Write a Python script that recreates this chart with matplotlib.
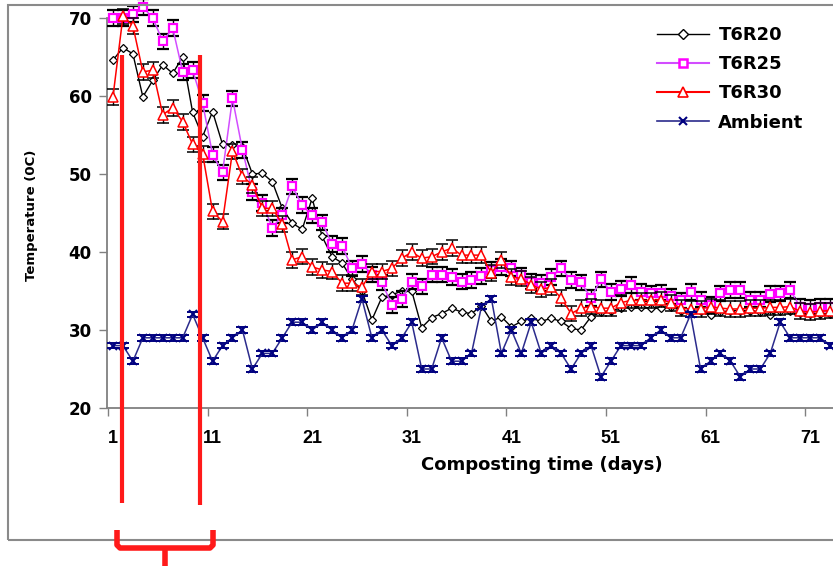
import matplotlib
matplotlib.use('Agg')
import matplotlib.pyplot as plt
from matplotlib.lines import Line2D
from matplotlib.patches import Rectangle

# Temperatures, days 1..73
days = list(range(1, 74))

t6r20 = [64.6, 66.2, 65.4, 59.9, 62.0, 64.0, 62.9, 65.0, 57.9, 54.8,
         58.0, 53.8, 53.7, 53.5, 50.0, 50.1, 49.0, 45.6, 43.7, 42.9,
         46.9, 42.0, 39.4, 38.6, 36.5, 35.0, 31.3, 34.2, 34.5, 35.0,
         35.0, 30.3, 31.6, 32.1, 32.8, 32.3, 32.1, 33.1, 31.1, 31.7,
         30.4, 31.1, 31.5, 31.1, 31.5, 31.1, 30.2, 30.0, 31.7, 32.3,
         32.5, 32.8, 33.0, 33.0, 32.8, 32.8, 33.0, 32.5, 32.3, 32.5,
         31.9, 32.3, 32.5, 32.5, 32.5, 32.3, 31.9, 32.5, 32.5, 32.2,
         32.0, 32.0, 32.0]

t6r25 = [70.0, 70.0, 70.5, 71.4, 70.0, 67.0, 68.7, 63.1, 63.3, 59.1,
         52.5, 50.2, 59.7, 53.1, 47.7, 46.3, 43.1, 44.7, 48.4, 46.0,
         44.7, 43.8, 41.0, 40.8, 37.9, 38.5, 37.1, 36.1, 33.2, 34.0,
         36.2, 35.6, 37.1, 37.1, 36.8, 36.2, 36.4, 36.9, 37.7, 38.1,
         37.9, 37.0, 36.2, 36.0, 36.8, 37.9, 36.4, 36.1, 34.1, 36.5,
         34.9, 35.3, 35.8, 34.9, 34.7, 34.8, 34.3, 33.8, 34.9, 33.9,
         33.2, 34.7, 35.1, 35.1, 33.9, 33.9, 34.6, 34.7, 35.1, 33.0,
         32.8, 33.0, 33.0]

t6r30 = [59.9, 70.2, 69.0, 63.1, 63.3, 57.6, 58.5, 56.7, 53.8, 52.6,
         45.2, 43.9, 52.9, 49.7, 48.6, 45.6, 45.6, 43.6, 39.0, 39.4,
         38.1, 37.7, 37.5, 36.0, 36.0, 35.5, 37.5, 37.5, 37.9, 39.2,
         40.0, 39.2, 39.4, 40.0, 40.5, 39.6, 39.6, 39.6, 37.3, 39.0,
         36.8, 36.6, 35.8, 35.2, 35.5, 34.1, 32.1, 32.8, 33.0, 32.8,
         32.8, 33.5, 33.8, 33.8, 33.8, 33.9, 33.5, 32.8, 32.7, 32.7,
         33.0, 32.8, 32.7, 32.7, 32.8, 32.8, 32.9, 32.9, 33.0, 32.4,
         32.3, 32.4, 32.5]

ambient = [28, 28, 26, 29, 29, 29, 29, 29, 32, 29,
           26, 28, 29, 30, 25, 27, 27, 29, 31, 31,
           30, 31, 30, 29, 30, 34, 29, 30, 28, 29,
           31, 25, 25, 29, 26, 26, 27, 33, 34, 27,
           30, 27, 31, 27, 28, 27, 25, 27, 28, 24,
           26, 28, 28, 28, 29, 30, 29, 29, 32, 25,
           26, 27, 26, 24, 25, 25, 27, 31, 29, 29,
           29, 29, 28]

err_compost = 1.0
err_ambient = 0.35

x_labels = [1, 11, 21, 31, 41, 51, 61, 71]
y_ticks = [20, 30, 40, 50, 60, 70]

W, H = 833, 566
fig = plt.figure(figsize=(W / 100, H / 100), dpi=100)
ax = fig.add_axes([107 / W, 1 - 408 / H, 1 - 107 / W, (408 - 18) / H])

ax.plot(days, t6r20, color='black', lw=1, marker='D', ms=4.5,
        mfc='white', mec='black', mew=0.9, clip_on=False, zorder=3)
ax.errorbar(days, t6r25, yerr=err_compost, color='#d24dff', lw=1.1,
            marker='s', ms=6, mfc='white', mec='#ff00ff', mew=1.6,
            ecolor='black', elinewidth=1, capsize=4, capthick=1.8,
            clip_on=False, zorder=4)
ax.errorbar(days, t6r30, yerr=err_compost, color='#ff0000', lw=1.1,
            marker='^', ms=7, mfc='white', mec='#ff0000', mew=1.1,
            ecolor='black', elinewidth=1, capsize=4, capthick=1.8,
            clip_on=False, zorder=5)
ax.errorbar(days, ambient, yerr=err_ambient, color='#2b2b8c', lw=1.1,
            marker='x', ms=5.5, mec='#000080', mew=1.4,
            ecolor='#000080', elinewidth=1, capsize=4, capthick=1.8,
            clip_on=False, zorder=6)

ax.set_xlim(0.4, 73.3)
ax.set_ylim(20, 70)

for s in ['top', 'right']:
    ax.spines[s].set_visible(False)
for s in ['left', 'bottom']:
    ax.spines[s].set_color('#808080')
    ax.spines[s].set_linewidth(1.3)

ax.set_yticks(y_ticks)
ax.set_yticklabels([str(v) for v in y_ticks], fontsize=12, fontweight='bold')
ax.tick_params(axis='y', length=6, width=1, color='#808080', pad=5)

ax.set_xticks(x_labels)
ax.set_xticklabels([str(v) for v in x_labels], fontsize=13,
                   fontweight='bold', family='Liberation Sans')
ax.tick_params(axis='x', which='major', length=0, pad=16)
ax.set_xticks([0.5 + 10 * k for k in range(8)], minor=True)
ax.tick_params(axis='x', which='minor', length=6, width=1, color='#808080')

ax.set_xlabel('Composting time (days)', fontsize=13, fontweight='bold')
ax.xaxis.set_label_coords((542 - 107) / (W - 107), (408 - 456) / 390)
ax.set_ylabel('Temperature (0C)', fontsize=9.5, fontweight='bold')
ax.yaxis.set_label_coords((38 - 107) / (W - 107), 0.495)

handles = [
    Line2D([], [], color='black', lw=1, marker='D', ms=5, mfc='white', mec='black'),
    Line2D([], [], color='#d24dff', lw=1.5, marker='s', ms=6, mfc='white', mec='#ff00ff', mew=1.8),
    Line2D([], [], color='#ff0000', lw=1.5, marker='^', ms=7, mfc='white', mec='#ff0000', mew=1.2),
    Line2D([], [], color='#2b2b8c', lw=1.2, marker='x', ms=6, mec='#000080', mew=1.5),
]
fig.legend(handles, ['T6R20', 'T6R25', 'T6R30', 'Ambient'],
           loc='upper left', bbox_to_anchor=(657 / W, 1 - 26 / H),
           frameon=False, prop={'size': 13, 'weight': 'bold'},
           handlelength=2.9, handletextpad=0.5, labelspacing=0.62,
           borderpad=0, borderaxespad=0)

# outer frame of the pasted chart
fig.patches.append(Rectangle((8 / W, 1 - 540 / H), 1.0, (540 - 5) / H,
                             transform=fig.transFigure, fill=False,
                             ec='#8a8a8a', lw=1.5))

# red markup lines and brace
def fig_line(xs, ys, lw):
    fig.lines.append(Line2D([x / W for x in xs], [1 - y / H for y in ys],
                            transform=fig.transFigure, color='#ff1a1a',
                            lw=lw, solid_capstyle='butt', solid_joinstyle='round'))

fig_line([122, 122], [55, 503], 3)
fig_line([200, 200], [55, 505], 3)
fig_line([117, 117, 120, 210, 213, 213], [530, 545, 548, 548, 545, 530], 4)
fig_line([165, 165], [548, 566], 4)

fig.savefig('out.png', dpi=100)
